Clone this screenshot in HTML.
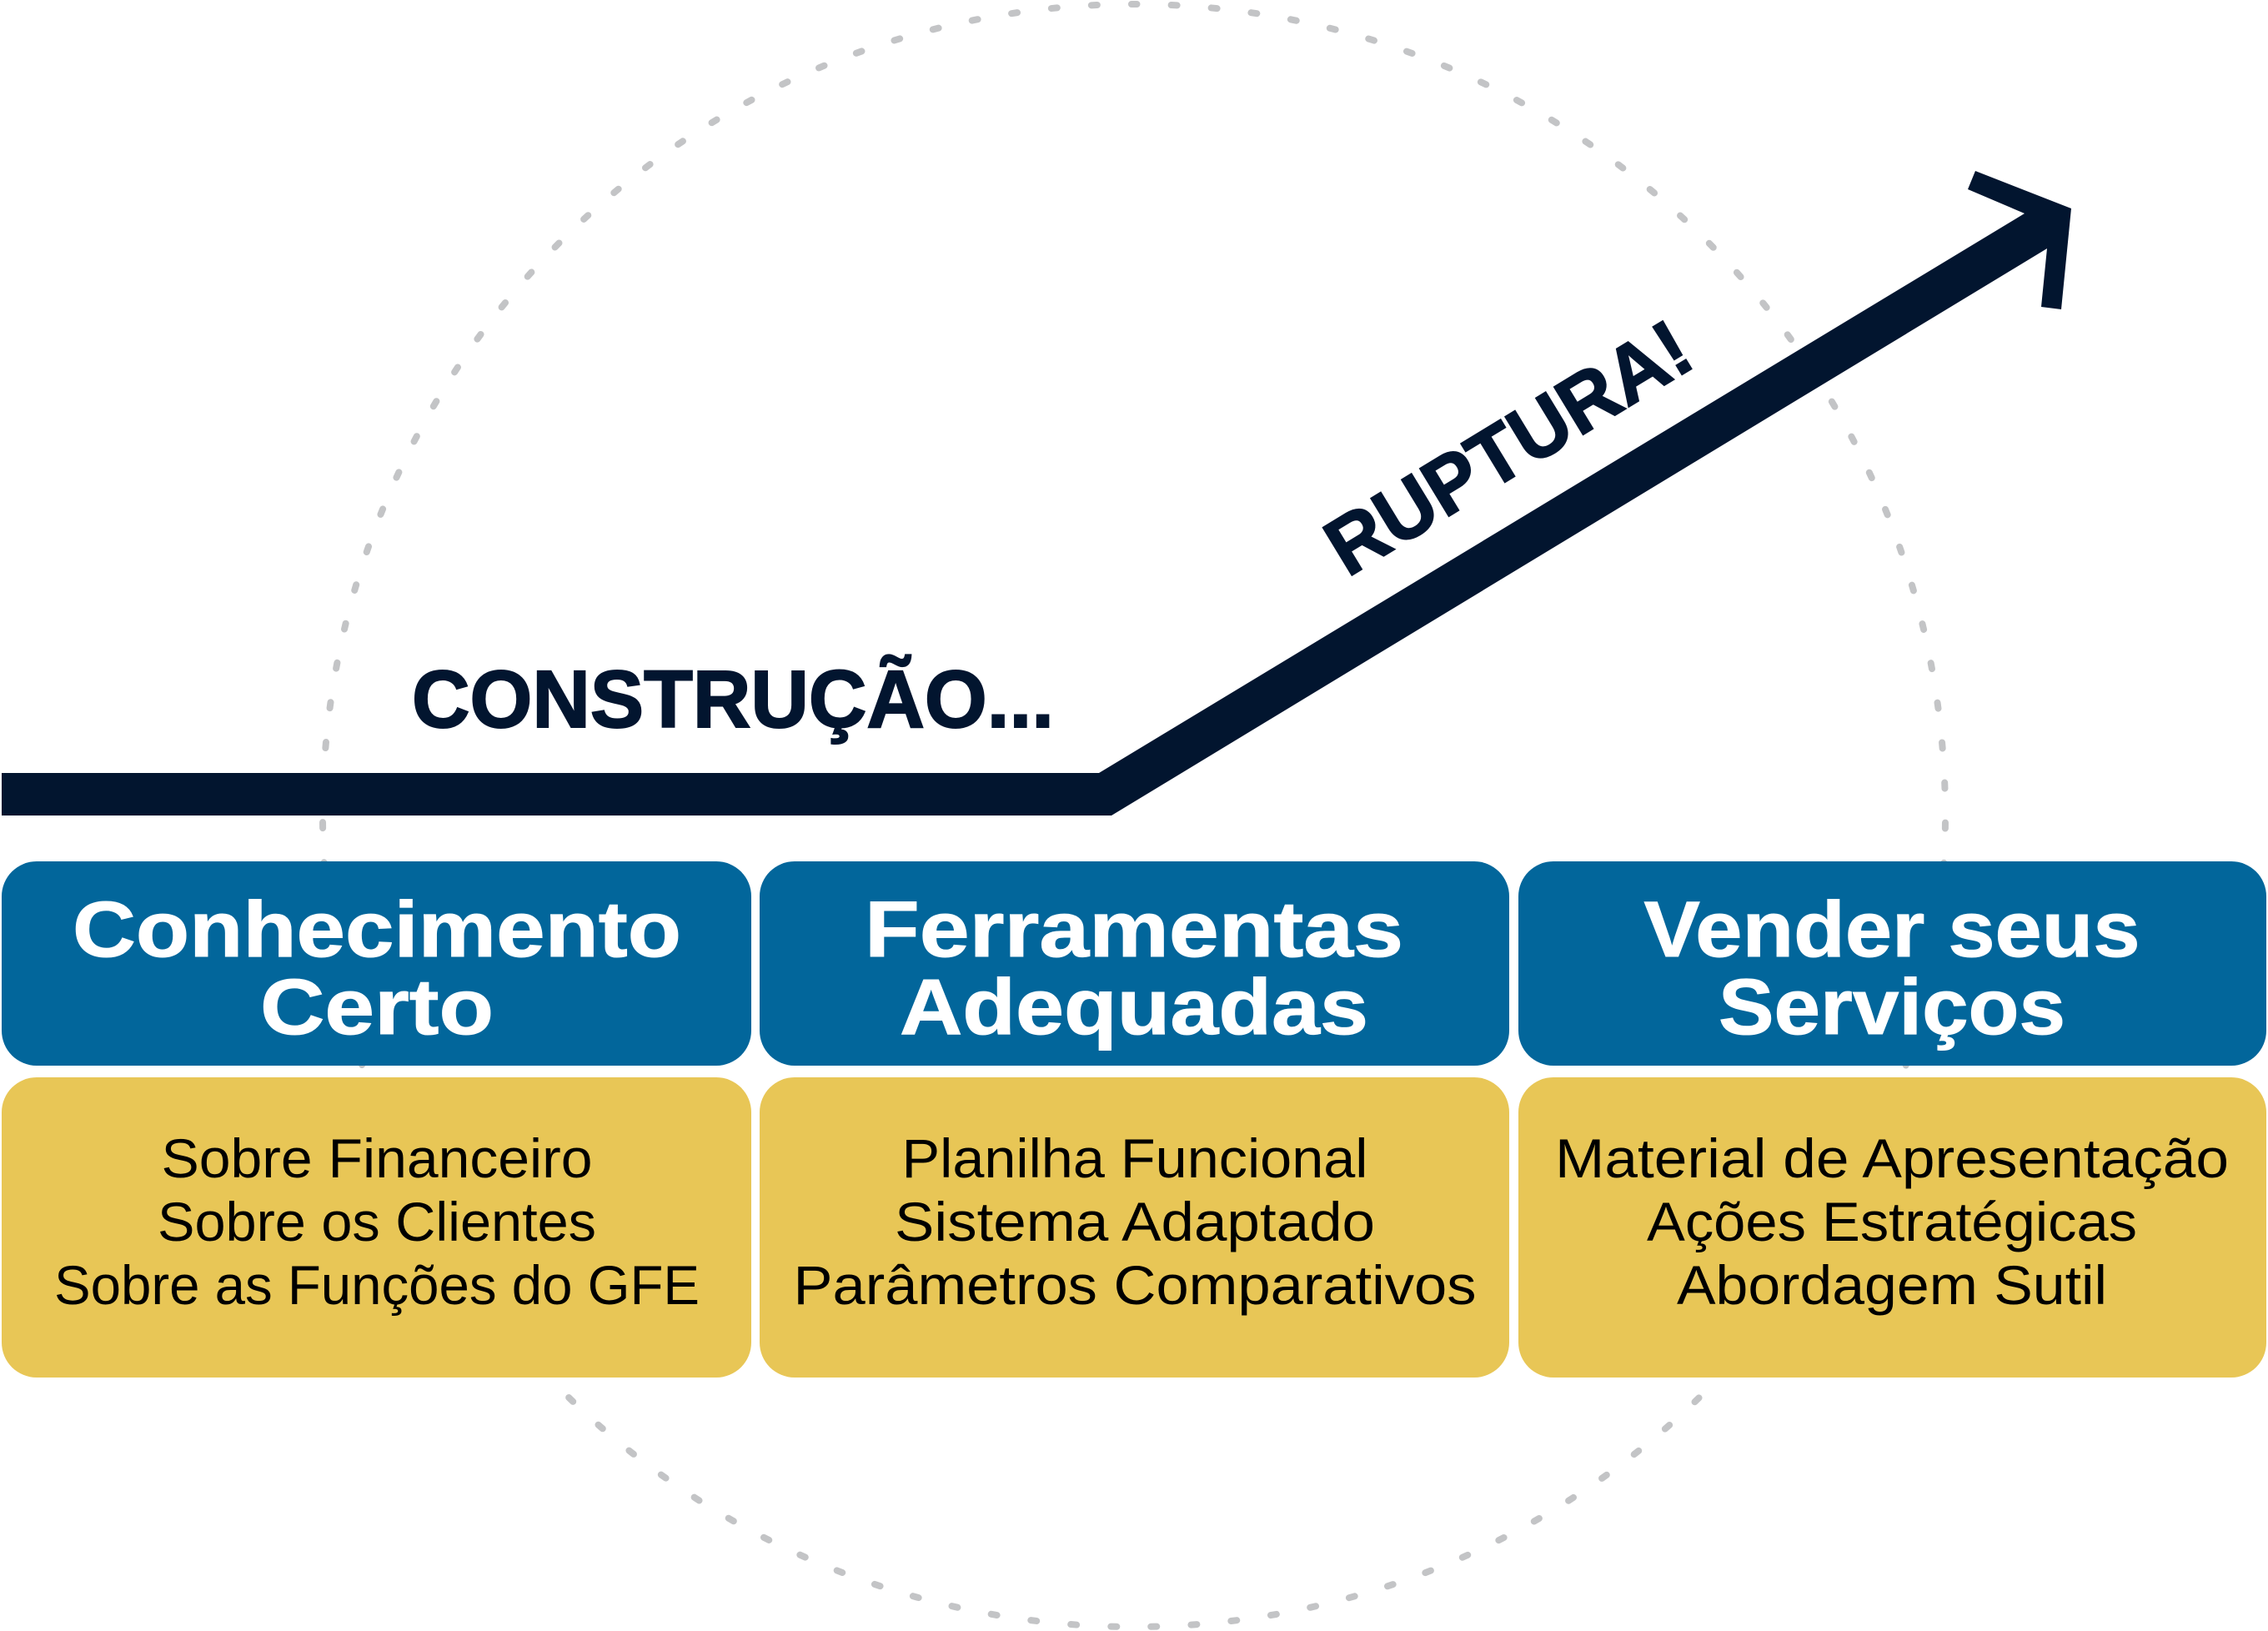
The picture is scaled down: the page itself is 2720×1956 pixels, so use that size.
<!DOCTYPE html>
<html>
<head>
<meta charset="utf-8">
<style>
  html, body { margin: 0; padding: 0; background: #ffffff; }
  body { width: 2720px; height: 1956px; overflow: hidden; }
  svg { display: block; }
  .hd { font-family: "Liberation Sans", Arial, sans-serif; font-weight: 700; font-size: 95px; fill: #ffffff; stroke: #ffffff; stroke-width: 1px; }
  .bd { font-family: "Liberation Sans", Arial, sans-serif; font-weight: 400; font-size: 66px; fill: #000000; }
  .nv { font-family: "Liberation Sans", Arial, sans-serif; font-weight: 700; font-size: 97px; fill: #02152F; stroke: #02152F; stroke-width: 2px; }
</style>
</head>
<body>
<svg width="2720" height="1956" viewBox="0 0 2720 1956" xmlns="http://www.w3.org/2000/svg">
  <!-- dotted circle -->
  <circle cx="1360" cy="978" r="973" fill="none" stroke="#C3C4C6" stroke-width="8"
          stroke-linecap="round" stroke-dasharray="7 41.14" stroke-dashoffset="3.5"
          transform="rotate(-90 1360 978)"/>

  <!-- line + arrow -->
  <polygon fill="#02152F" points="2,927 1318,927 2428,256 2360,227 2369,205 2484,250 2472,371 2448,368 2455,298 1333,978 2,978"/>

  <!-- CONSTRUÇÃO... -->
  <text class="nv" x="494" y="872" textLength="770" lengthAdjust="spacingAndGlyphs">CONSTRUÇÃO...</text>

  <!-- RUPTURA! -->
  <text class="nv" font-size="100" transform="translate(1616,693) rotate(-31.3)" x="0" y="0" textLength="492" lengthAdjust="spacingAndGlyphs">RUPTURA!</text>

  <!-- blue boxes -->
  <rect x="2" y="1033" width="899" height="245" rx="42" ry="42" fill="#02669B"/>
  <rect x="911" y="1033" width="899" height="245" rx="42" ry="42" fill="#02669B"/>
  <rect x="1821" y="1033" width="897" height="245" rx="42" ry="42" fill="#02669B"/>

  <!-- yellow boxes -->
  <rect x="2" y="1292" width="899" height="360" rx="42" ry="42" fill="#E8C656"/>
  <rect x="911" y="1292" width="899" height="360" rx="42" ry="42" fill="#E8C656"/>
  <rect x="1821" y="1292" width="897" height="360" rx="42" ry="42" fill="#E8C656"/>

  <!-- headers -->
  <text class="hd" x="452" y="1147" text-anchor="middle" textLength="730" lengthAdjust="spacingAndGlyphs">Conhecimento</text>
  <text class="hd" x="452" y="1240" text-anchor="middle" textLength="280" lengthAdjust="spacingAndGlyphs">Certo</text>

  <text class="hd" x="1360" y="1147" text-anchor="middle" textLength="646" lengthAdjust="spacingAndGlyphs">Ferramentas</text>
  <text class="hd" x="1360" y="1240" text-anchor="middle" textLength="562" lengthAdjust="spacingAndGlyphs">Adequadas</text>

  <text class="hd" x="2269" y="1147" text-anchor="middle" textLength="595" lengthAdjust="spacingAndGlyphs">Vender seus</text>
  <text class="hd" x="2269" y="1240" text-anchor="middle" textLength="416" lengthAdjust="spacingAndGlyphs">Serviços</text>

  <!-- body texts -->
  <text class="bd" x="452" y="1412" text-anchor="middle" textLength="517" lengthAdjust="spacingAndGlyphs">Sobre Financeiro</text>
  <text class="bd" x="452" y="1488" text-anchor="middle" textLength="526" lengthAdjust="spacingAndGlyphs">Sobre os Clientes</text>
  <text class="bd" x="452" y="1564" text-anchor="middle" textLength="774" lengthAdjust="spacingAndGlyphs">Sobre as Funções do GFE</text>

  <text class="bd" x="1361" y="1412" text-anchor="middle" textLength="559" lengthAdjust="spacingAndGlyphs">Planilha Funcional</text>
  <text class="bd" x="1361" y="1488" text-anchor="middle" textLength="576" lengthAdjust="spacingAndGlyphs">Sistema Adaptado</text>
  <text class="bd" x="1361" y="1564" text-anchor="middle" textLength="819" lengthAdjust="spacingAndGlyphs">Parâmetros Comparativos</text>

  <text class="bd" x="2269" y="1412" text-anchor="middle" textLength="808" lengthAdjust="spacingAndGlyphs">Material de Apresentação</text>
  <text class="bd" x="2269" y="1488" text-anchor="middle" textLength="588" lengthAdjust="spacingAndGlyphs">Ações Estratégicas</text>
  <text class="bd" x="2269" y="1564" text-anchor="middle" textLength="516" lengthAdjust="spacingAndGlyphs">Abordagem Sutil</text>
</svg>
</body>
</html>
